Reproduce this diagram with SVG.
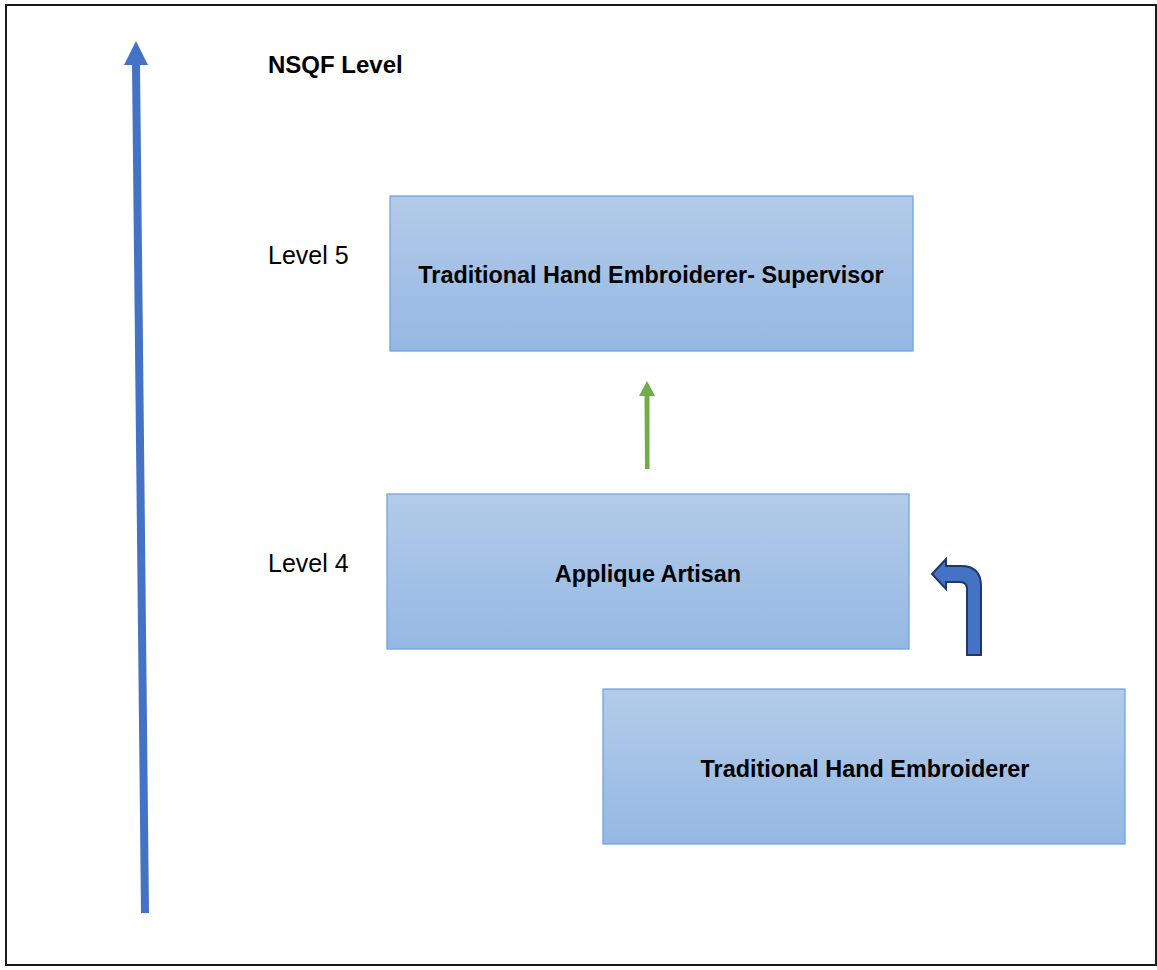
<svg xmlns="http://www.w3.org/2000/svg" width="1157" height="970" viewBox="0 0 1157 970">
<defs>
<linearGradient id="g" x1="0" y1="0" x2="0" y2="1">
<stop offset="0" stop-color="#b3cbe9"/>
<stop offset="1" stop-color="#95b8e3"/>
</linearGradient>
<style>
.box{fill:url(#g);stroke:#6a9fdc;stroke-width:1.2}
.bt{font-family:"Liberation Sans",Arial,sans-serif;font-weight:bold;font-size:23.4px;fill:#000;text-anchor:middle}
.lv{font-family:"Liberation Sans",Arial,sans-serif;font-size:25px;fill:#000}
</style>
</defs>
<rect x="0" y="0" width="1157" height="970" fill="#fff"/>
<rect x="6" y="5" width="1150" height="960" fill="none" stroke="#1a1a1a" stroke-width="2"/>
<g id="connectors">
<polygon points="141,913 149,913 140,65 148,65 136,41 124,65 132,65" fill="#4472c4"/>
<polygon points="645,469 649.5,469 649.5,396 655,396 647,381 639,396 644.5,396" fill="#70ad47"/>
<path d="M967,655 L967,589 Q967,582 960,582 L946,582 L946,589 L932,574 L946,559 L946,566 L961,566 Q981,566 981,586 L981,655 Z" fill="#4472c4" stroke="#1f3864" stroke-width="2" stroke-linejoin="miter"/>
</g>
<g id="title"><text x="268" y="73" class="lv" style="font-weight:bold;font-size:24px">NSQF Level</text></g>
<g id="level5"><text x="268" y="264" class="lv">Level 5</text></g>
<g id="level4"><text x="268" y="572" class="lv">Level 4</text></g>
<g id="supervisor">
<rect class="box" x="390" y="196" width="523" height="155"/>
<text class="bt" x="651" y="283">Traditional Hand Embroiderer- Supervisor</text>
</g>
<g id="applique">
<rect class="box" x="387" y="494" width="522" height="155"/>
<text class="bt" x="648" y="582">Applique Artisan</text>
</g>
<g id="embroiderer">
<rect class="box" x="603" y="689" width="522" height="155"/>
<text class="bt" x="865" y="777">Traditional Hand Embroiderer</text>
</g>
</svg>
